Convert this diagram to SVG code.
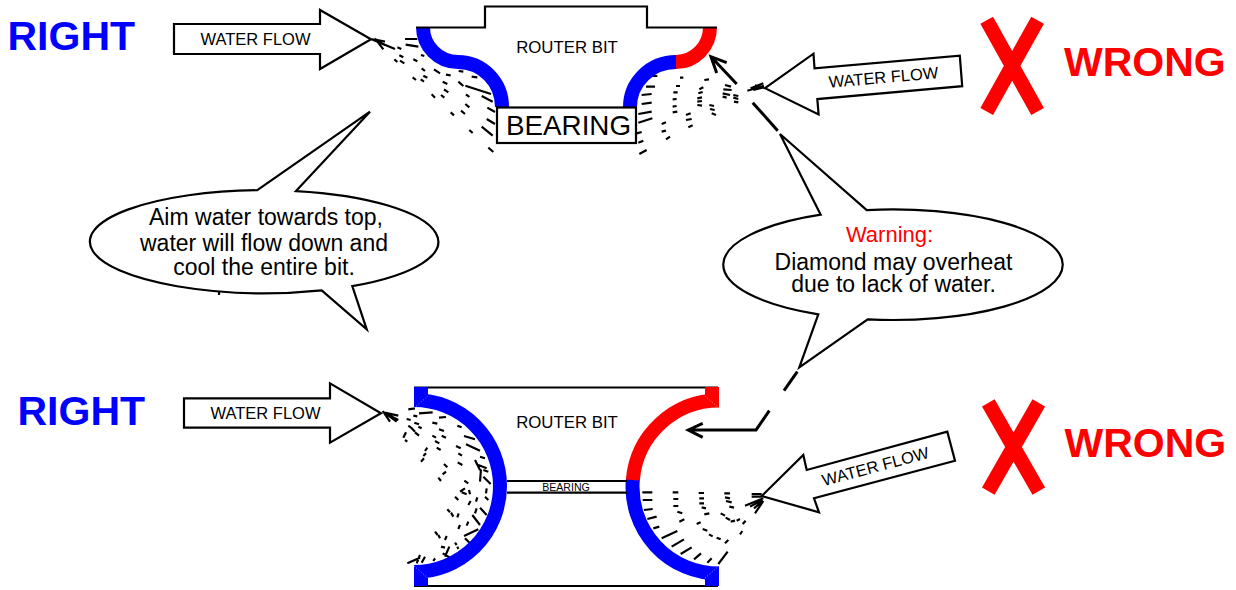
<svg xmlns="http://www.w3.org/2000/svg" width="1236" height="590" viewBox="0 0 1236 590">
<style>
text{font-family:"Liberation Sans",Arial,sans-serif;fill:#000;text-anchor:middle}
.big{font-size:41px;font-weight:700;text-anchor:start}
.blue{fill:#00f}.red{fill:#f00}
.wf{font-size:16.5px}.rb{font-size:16.8px}.call{font-size:23px}
.out{fill:#fff;stroke:#000;stroke-width:2.2;stroke-linejoin:miter}
.line{fill:none;stroke:#000;stroke-width:2.2}
.cut{fill:none;stroke-width:14}
.spray{fill:none;stroke:#000;stroke-width:6.5}
.ptr{fill:none;stroke:#000;stroke-width:3}
.x{stroke:#f00;stroke-width:14.5;fill:none}
.seam{stroke:#fff;stroke-width:1;stroke-dasharray:1 2;opacity:.6}
</style>
<rect width="1236" height="590" fill="#fff"/>

<g id="spray-top-left" transform="translate(360 0) scale(.33333)"><path class="spray" d="M35 118L105 147M35 118L75 135M45 115L70 148M40 118L75 125M112 142L124 147M135 117L172 117M137 134L175 140M118 166L130 172M103 178L112 186M120 182L133 190M160 178L172 184M183 165L193 168M185 205L195 213M222 208L240 220M258 224L272 226M296 213L310 215M335 230L352 232M190 227L202 233M182 238L192 245M158 232L168 240M248 245L262 252M295 245L310 258M316 257L393 282M252 268L265 277M318 283L328 291M215 283L225 293M243 285L253 293M365 288L398 305M382 323L405 336M316 312L328 322M303 332L315 342M272 337L282 346M380 357L405 372M328 390L338 399M365 380L398 407M385 443L400 456"/></g>
<g id="spray-top-right" transform="translate(360 0) scale(.33333)"><path class="spray" d="M875 228L892 228M960 233L970 233M1033 240L1047 238M858 260L885 260M948 258L960 258M1018 268L1030 262M1095 255L1113 260M1090 268L1115 270M1088 280L1110 285M1088 290L1100 293M845 285L875 282M940 277L953 277M1015 280L1028 276M845 312L875 308M938 298L950 297M1012 295L1026 292M1120 285L1135 288M1120 293L1135 297M1122 305L1135 307M835 342L875 335M938 320L950 318M1012 305L1026 303M1048 315L1062 318M1050 327L1064 330M1055 340L1068 345M835 368L877 355M938 337L952 335M1012 315L1026 317M978 345L992 340M978 360L995 357M985 382L998 376M905 372L918 367M905 395L918 392M918 418L930 410M830 400L845 396M835 428L850 422M838 462L860 450M1162 272L1212 257M1172 265L1210 250M1185 256L1212 264M1180 270L1210 262"/></g>
<g id="spray-bottom-left" transform="translate(370 375) scale(.33333)"><path class="spray" d="M40 112L85 122M40 112L85 135M50 118L80 140M38 108L60 140M115 103L135 100M130 122L142 124M147 115L188 112M207 128L228 126M110 132L122 135M187 143L202 146M133 143L147 148M145 155L155 160M115 152L128 162M125 160L135 170M135 172L147 182M108 172L100 188M105 195L112 200M207 163L222 168M262 152L275 157M187 182L198 188M215 182L228 188M195 198L208 205M200 218L212 225M282 183L315 193M258 213L272 220M288 208L330 227M265 235L276 242M172 218L165 228M168 235L160 243M162 250L153 260M330 245L345 250M263 262L277 270M315 255L330 285M325 270L350 280M340 285L355 290M333 283L330 320M340 305L362 327M222 267L232 277M228 290L218 298M205 308L213 318M283 317L295 325M285 340L270 350M275 352L290 358M297 345L300 358M350 340L348 355M255 365L265 375M322 367L318 380M345 365L355 375M302 378L295 390M232 403L240 412M243 413L250 425M266 415L262 427M330 398L350 420M320 400L315 415M307 420L330 450M270 450L265 462M295 440L290 452M195 470L203 480M205 480L210 490M230 483L225 495M282 483L325 463M285 490L300 505M255 503L260 510M213 515L225 518M262 515L265 522M238 515L225 545M218 535L240 548M190 558L195 550M112 565L150 548M140 565L150 540M155 563L165 545"/></g>
<g id="spray-bottom-right" transform="translate(570 375) scale(.33333)"><path class="spray" d="M217 352L247 352M218 375L247 375M222 405L248 402M232 432L260 425M250 460L268 455M275 490L322 468M305 515L342 493M332 537L365 517M372 553L393 535M412 563L425 550M445 567L473 530M308 352L325 352M310 372L325 372M310 393L325 393M322 410L337 415M328 440L343 433M386 354L402 354M388 370L402 370M388 385L402 385M395 397L408 400M403 418L418 415M380 447L392 442M398 462L412 467M417 478L428 484M440 488L452 493M465 505L475 495M463 355L480 355M465 367L480 370M468 378L485 382M478 395L492 398M452 415L465 422M467 428L480 435M482 440L495 437M500 437L510 432M518 447L527 437M510 478L517 468M545 357L575 357M545 365L575 365M525 392L580 370M540 395L578 375M552 400L578 378M555 415L580 378"/></g>
<path class="line" d="M219 292V295"/>

<g id="router-bit-top">
<path class="cut" stroke="#00f" d="M423 27A35 35 0 0 0 458 62A44 45 0 0 1 502 107"/>
<path class="cut" stroke="#00f" d="M630 107A46 45 0 0 1 676 62"/>
<path class="cut" stroke="#f00" d="M676 62A34 35 0 0 0 710 27"/>
<path class="line" d="M416 27.5H485V6.5H647V27.5H717"/>
<text class="rb" x="567" y="53">ROUTER BIT</text>
</g>
<g id="bearing-top">
<rect class="out" x="497" y="107.5" width="139" height="35.5"/>
<text x="568.5" y="134.5" font-size="27.8">BEARING</text>
</g>

<g id="router-bit-bottom">
<path class="line" d="M414 387.5H718M414 586H718"/>
<path class="cut" stroke="#00f" d="M414 400A86 86 0 0 1 414 572"/>
<path fill="#00f" d="M414 387H428V396L414 408ZM414 566L428 578V586H414Z"/>
<path class="cut" stroke="#f00" d="M719 400.5A86.5 86.5 0 0 0 632.8 480.5"/>
<path class="cut" stroke="#00f" d="M632.8 480A86.5 86.5 0 0 0 719 573.5"/>
<path fill="#f00" d="M705 387H719V408L705 396Z"/>
<path fill="#00f" d="M705 578L719 566V586H705Z"/>
<path class="seam" d="M414 408L428 396M414 566L428 578M705 396L719 408M705 578L719 566"/>
<text class="rb" x="567" y="428">ROUTER BIT</text>
</g>
<g id="bearing-bottom">
<path class="line" d="M507 481H627M507 492.7H627"/>
<text x="566" y="490.5" font-size="10.6">BEARING</text>
</g>

<g id="label-right-top"><text class="big blue" x="7.5" y="50">RIGHT</text></g>
<g id="label-right-bottom"><text class="big blue" x="17.5" y="424.5">RIGHT</text></g>
<g id="label-wrong-top"><text class="big red" x="1064" y="76">WRONG</text></g>
<g id="label-wrong-bottom"><text class="big red" x="1064.5" y="457">WRONG</text></g>

<g id="x-top"><path class="x" d="M986.7 20.2L1037.6 111.5M1037.6 20.2L986.7 111.5"/></g>
<g id="x-bottom"><path class="x" d="M988.3 402.8L1038.8 491.2M1038.8 402.8L988.3 491.2"/></g>

<g id="flow-top-left">
<path class="out" d="M174 24H320V10L371 39.3L320 69V54H174Z"/>
<text class="wf" x="255.5" y="45">WATER FLOW</text>
</g>
<g id="flow-bottom-left">
<path class="out" d="M184 398.3H330V383.3L381 413.3L330 442.7V427.7H184Z"/>
<text class="wf" x="265.5" y="419">WATER FLOW</text>
</g>
<g id="flow-top-right">
<path class="out" d="M765 88.2L813.5 53.7L814.5 68.4L959.8 55.7L962.2 86.2L817.3 99.1L818.6 114.5Z"/>
<text class="wf" x="884" y="83" transform="rotate(-5 884 83)">WATER FLOW</text>
</g>
<g id="flow-bottom-right">
<path class="out" d="M761.7 496L803.3 455L806.7 470L947.3 431.7L955 460.7L814 498.3L819 512.3Z"/>
<text class="wf" x="877" y="472" transform="rotate(-15 877 472)">WATER FLOW</text>
</g>

<g id="callout-aim">
<path class="out" d="M257.3 190.2L370 111.7L296 191.1A174.5 51.5 0 0 1 352.3 286.1L366.7 329.3L321.7 290.3A174.5 51.5 0 1 1 257.3 190.2Z"/>
<text class="call" x="266" y="225">Aim water towards top,</text>
<text class="call" x="264" y="250.5">water will flow down and</text>
<text class="call" x="264" y="275">cool the entire bit.</text>
</g>
<g id="callout-warning">
<path class="out" d="M820.7 214.67L780 134L866.7 210.07A169.7 55.3 0 1 1 867.7 319.38L799.3 367.3L818.3 314.36A169.7 55.3 0 0 1 820.7 214.67Z"/>
<text class="call red" x="889.5" y="241.7" style="font-size:22px">Warning:</text>
<text class="call" x="893.5" y="270">Diamond may overheat</text>
<text class="call" x="893.5" y="291.7">due to lack of water.</text>
</g>

<g id="connectors">
<path class="ptr" d="M736.7 84L711 56.7M726.7 62.7L711 56.7L716.7 73"/>
<path class="ptr" d="M752.7 102.7L777.7 130.7"/>
<path class="ptr" d="M797.3 371.7L784 390.7"/>
<path class="ptr" d="M769.3 410.7L756 430H688.3M702.7 423.3L688.3 430L702.7 437.3"/>
</g>
</svg>
